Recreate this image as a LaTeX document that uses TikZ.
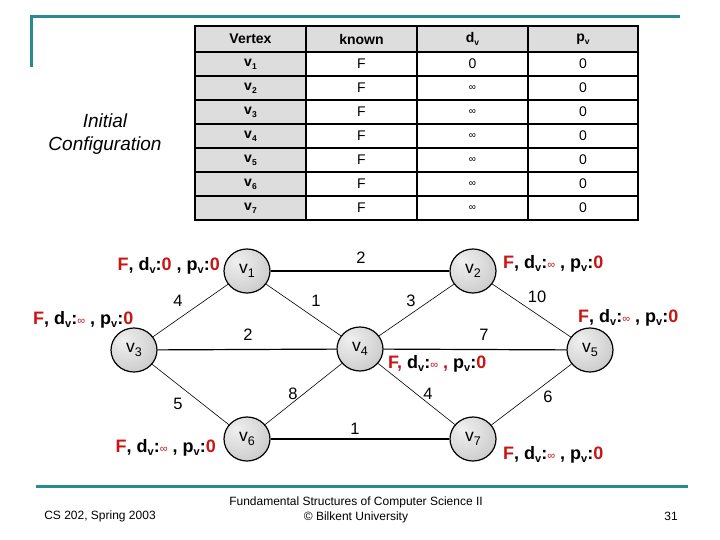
\documentclass[tikz,border=0pt]{standalone}
\usepackage{fontspec}
\setmainfont{Liberation Sans}
\usetikzlibrary{shapes.geometric}
\definecolor{tealline}{RGB}{41,139,139}
\definecolor{redv}{RGB}{204,20,20}
\definecolor{cellgray}{RGB}{221,221,221}
\pgfdeclareradialshading{nodeshade}{\pgfpoint{-12bp}{12bp}}{color(0bp)=(white!94!black); color(20bp)=(white!86!black); color(45bp)=(white!74!black); color(64bp)=(white!62!black)}
\newcommand{\redinf}{\textcolor{redv}{\fontsize{11}{11}\selectfont\mdseries ∞}}
\newcommand{\tinf}{{\fontsize{10}{10}\selectfont ∞}}
\newcommand{\ssub}[1]{\raisebox{-3pt}{\fontsize{11}{11}\selectfont #1}}
\newcommand{\nsub}[1]{\raisebox{-4.5pt}{\fontsize{12.5}{12.5}\selectfont #1}}
\newcommand{\tsub}[1]{\raisebox{-3pt}{\fontsize{8.5}{8.5}\selectfont #1}}
\newcommand{\statv}[1]{\textcolor{redv}{F}, d\ssub{v}:#1 , p\ssub{v}:\textcolor{redv}{0}}
\begin{document}
\begin{tikzpicture}[x=1pt,y=-1pt,
  vtx/.style={ellipse, draw=black, line width=1.2pt, minimum width=46pt, minimum height=44pt, inner sep=0pt, shade, shading=nodeshade, font=\fontsize{17.5}{20}\selectfont},
  thinedge/.style={line width=0.6pt},
  thickedge/.style={line width=1.2pt},
  elbl/.style={inner sep=0pt, font=\fontsize{16.5}{18}\selectfont},
  stat/.style={inner sep=0pt, font=\fontsize{18}{20}\selectfont\bfseries},
  cell/.style={inner sep=0pt, font=\fontsize{14}{16}\selectfont},
  hcell/.style={inner sep=0pt, font=\fontsize{14}{16}\selectfont\bfseries},
  foot/.style={inner sep=0pt, font=\fontsize{12}{15}\selectfont, align=center},
  tline/.style={draw=tealline, line width=3pt}
]
\useasboundingbox (0,0) rectangle (720,540);

% decorative teal lines
\draw[tline] (31,67) -- (31,17) -- (680,17);
\draw[tline] (36,486) -- (688,486);

% table
\fill[cellgray] (195,26) rectangle (638,52);
\fill[cellgray] (195,52) rectangle (306,220);
\foreach \yy in {52,76,100,124,148,172,196}
  \draw[line width=1.6pt] (195,\yy) -- (638,\yy);
\foreach \xx in {306,417,528}
  \draw[line width=1.6pt] (\xx,26) -- (\xx,220);
\draw[line width=2.5pt] (195,26) rectangle (638,220);

\node[hcell] (h1) at (250.5,39) {Vertex};
\node[hcell] (h2) at (361.5,39) {known};
\node[hcell] (h3) at (472.5,39) {d\tsub{v}};
\node[hcell] (h4) at (583,39) {p\tsub{v}};
\foreach \i in {1,...,7} {
  \pgfmathsetmacro{\ry}{64+24*(\i-1)}
  \node[hcell] (r\i c1) at (250.5,\ry) {v\tsub{\i}};
  \node[cell] (r\i c2) at (361.5,\ry) {F};
  \node[cell] (r\i c4) at (583,\ry) {0};
}
\node[cell] (r1 c3) at (472.5,64) {0};
\foreach \i in {2,...,7} {
  \pgfmathsetmacro{\ry}{64+24*(\i-1)}
  \node[cell] (r\i c3) at (472.5,\ry) {\tinf};
}

% caption
\node[inner sep=0pt, font=\fontsize{19}{23}\selectfont\itshape, align=center] (cap) at (105,134) {Initial\\Configuration};

% graph vertices
\node[vtx] (v1) at (247,271) {v\nsub{1}};
\node[vtx] (v2) at (473,271) {v\nsub{2}};
\node[vtx] (v3) at (134,350) {v\nsub{3}};
\node[vtx] (v4) at (360,349) {v\nsub{4}};
\node[vtx] (v5) at (590,350) {v\nsub{5}};
\node[vtx] (v6) at (247,439) {v\nsub{6}};
\node[vtx] (v7) at (473,439) {v\nsub{7}};

% edges
\draw[thickedge] (v1) -- (v2);
\draw[thickedge] (v3) -- (v4);
\draw[thickedge] (v4) -- (v5);
\draw[thickedge] (v6) -- (v7);
\draw[thinedge] (v1) -- (v4);
\draw[thinedge] (v1) -- (v3);
\draw[thinedge] (v2) -- (v4);
\draw[thinedge] (v2) -- (v5);
\draw[thinedge] (v3) -- (v6);
\draw[thinedge] (v4) -- (v6);
\draw[thinedge] (v4) -- (v7);
\draw[thinedge] (v5) -- (v7);

% edge weights
\node[elbl] (w12) at (361,258) {2};
\node[elbl] (w14) at (316,301) {1};
\node[elbl] (w24) at (411,301) {3};
\node[elbl] (w34) at (248,335) {2};
\node[elbl] (w45) at (484,335) {7};
\node[elbl] (w46) at (293,394) {8};
\node[elbl] (w47) at (428,394) {4};
\node[elbl] (w67) at (355,429) {1};
\node[elbl] (w13) at (178,301) {4};
\node[elbl] (w36) at (178,404) {5};
\node[elbl] (w25) at (537,297) {10};
\node[elbl] (w57) at (548,397) {6};

% status labels
\node[stat, anchor=base east] (s1) at (220,270) {\statv{\textcolor{redv}{0}}};
\node[stat, anchor=base west] (s2) at (503,268) {\statv{\redinf}};
\node[stat, anchor=base west] (s3) at (33,324) {\statv{\redinf}};
\node[stat, anchor=base west] (s4) at (388,368) {\textcolor{redv}{F,} d\ssub{v}:\redinf{} \textcolor{redv}{,} p\ssub{v}:\textcolor{redv}{0}};
\node[stat, anchor=base west] (s5) at (578,322) {\statv{\redinf}};
\node[stat, anchor=base east] (s6) at (216,452) {\statv{\redinf}};
\node[stat, anchor=base west] (s7) at (503,459) {\statv{\redinf}};

% footer
\node[foot] (f1) at (100,516) {CS 202, Spring 2003};
\node[foot] (f2) at (356,510) {Fundamental Structures of Computer Science II\\© Bilkent University};
\node[foot] (f3) at (671,516) {31};
\end{tikzpicture}
\end{document}
